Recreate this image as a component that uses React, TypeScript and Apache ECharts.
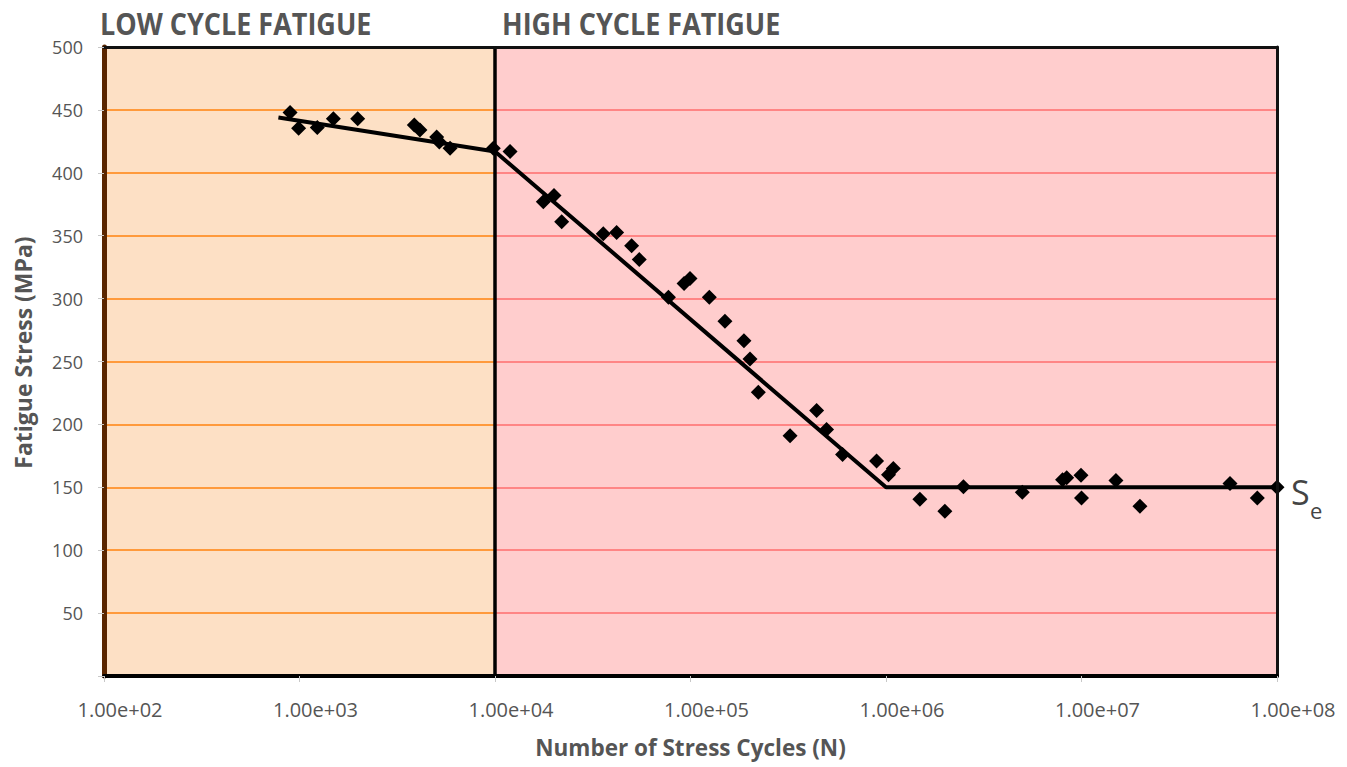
import React, { useEffect, useRef } from "react";
import * as echarts from "echarts";

const lowPoints: [number, number][] = [
  [895, 448], [990, 435.5], [1233, 436], [1490, 443], [1985, 443],
  [3865, 438], [4130, 434], [5030, 428.5], [5190, 424.5], [5890, 419.5],
  [9800, 419.5],
];
const highPoints: [number, number][] = [
  [11940, 417], [17660, 377], [20040, 382], [21930, 361], [35800, 351.5],
  [41900, 352.5], [50000, 342], [54700, 331], [77100, 301], [92700, 312],
  [99400, 316], [124800, 301], [150000, 282], [187700, 266.5], [201600, 252],
  [222300, 225.5], [323000, 191], [441600, 211], [496500, 196], [599500, 176],
  [895000, 171], [1030000, 160], [1090000, 165], [1490000, 140.5],
  [2000000, 131], [2490000, 150.5], [4980000, 146], [8000000, 156],
  [8400000, 157.5], [9940000, 159.5], [10000000, 141.5], [15000000, 155.5],
  [19900000, 135], [57500000, 153], [79300000, 141.5], [100000000, 150],
];
const fitLine: [number, number][] = [
  [780, 444], [10000, 417], [1000000, 150], [100000000, 150],
];
const yTicks = [50, 100, 150, 200, 250, 300, 350, 400, 450];
const xMin = 100;
const xSplit = 10000;
const xMax = 100000000;
const regionLabels = ["LOW CYCLE FATIGUE", "HIGH CYCLE FATIGUE"];
const xTitle = "Number of Stress Cycles (N)";
const yTitle = "Fatigue Stress (MPa)";

const FONT = "Open Sans";
const TEXT = "#555555";

export default function App() {
  const ref = useRef<HTMLDivElement>(null);
  useEffect(() => {
    if (!ref.current) return;
    const chart = echarts.init(ref.current, undefined, { renderer: "svg" });
    const fmtX = (v: number) => {
      const e = Math.round(Math.log10(v));
      return "1.00e+" + String(e).padStart(2, "0");
    };
    const gridLow = yTicks.map((y) => [
      { coord: [xMin, y] },
      { coord: [xSplit, y] },
    ]);
    const gridHigh = yTicks.map((y) => [
      { coord: [xSplit, y] },
      { coord: [xMax, y] },
    ]);
    chart.setOption({
      animation: false,
      grid: {
        left: 104,
        top: 47,
        width: 1173,
        height: 629,
        show: false,
        containLabel: false,
        outerBoundsMode: "none",
      },
      xAxis: [
        {
          type: "log",
          logBase: 10,
          min: xMin,
          max: xMax,
          z: 10,
          name: xTitle,
          nameLocation: "middle",
          nameGap: 60,
          nameTextStyle: { color: TEXT, fontFamily: FONT, fontWeight: "bold", fontSize: 22.5 },
          axisLine: { show: true, onZero: false, lineStyle: { color: "#000", width: 4 } },
          axisTick: { show: true, length: 6, lineStyle: { color: "#c8c8c8", width: 1 } },
          minorTick: { show: false },
          splitLine: { show: false },
          axisLabel: {
            formatter: fmtX,
            color: TEXT,
            fontFamily: FONT,
            fontSize: 20,
            margin: 23,
            padding: [0, 0, 0, 32],
          },
        },
        {
          type: "log",
          logBase: 10,
          min: xMin,
          max: xMax,
          position: "top",
          z: 10,
          axisLine: { show: true, onZero: false, lineStyle: { color: "#111", width: 3 } },
          axisTick: { show: false },
          axisLabel: { show: false },
          splitLine: { show: false },
        },
      ],
      yAxis: [
        {
          type: "value",
          min: 0,
          max: 500,
          interval: 50,
          z: 10,
          name: yTitle,
          nameLocation: "middle",
          nameGap: 70,
          nameTextStyle: { color: TEXT, fontFamily: FONT, fontWeight: "bold", fontSize: 23, padding: [0, 0, 0, 18] },
          axisLine: { show: true, onZero: false, lineStyle: { color: "#5a2600", width: 5 } },
          axisTick: { show: true, length: 6, lineStyle: { color: "#c8c8c8", width: 1 } },
          splitLine: { show: false },
          axisLabel: {
            formatter: (v: number) => (v === 0 ? "" : String(v)),
            color: TEXT,
            fontFamily: FONT,
            fontSize: 18,
            margin: 21,
          },
        },
        {
          type: "value",
          min: 0,
          max: 500,
          interval: 50,
          position: "right",
          z: 10,
          axisLine: { show: true, onZero: false, lineStyle: { color: "#111", width: 3 } },
          axisTick: { show: false },
          axisLabel: { show: false },
          splitLine: { show: false },
        },
      ],
      series: [
        {
          type: "line",
          data: [],
          z: 1,
          silent: true,
          markArea: {
            silent: true,
            data: [
              [{ xAxis: xMin, yAxis: 0, itemStyle: { color: "#fde0c5" } }, { xAxis: xSplit, yAxis: 500 }],
              [{ xAxis: xSplit, yAxis: 0, itemStyle: { color: "#ffcdcd" } }, { xAxis: xMax, yAxis: 500 }],
            ],
          },
        },
        {
          type: "line",
          data: [],
          z: 2,
          silent: true,
          markLine: {
            silent: true,
            symbol: ["none", "none"],
            label: { show: false },
            lineStyle: { color: "#ff9a3c", width: 2, type: "solid" },
            data: gridLow,
          },
        },
        {
          type: "line",
          data: [],
          z: 2,
          silent: true,
          markLine: {
            silent: true,
            symbol: ["none", "none"],
            label: { show: false },
            lineStyle: { color: "#ff8585", width: 2, type: "solid" },
            data: gridHigh,
          },
        },
        {
          type: "line",
          data: [],
          z: 5,
          silent: true,
          markLine: {
            silent: true,
            symbol: ["none", "none"],
            label: { show: false },
            lineStyle: { color: "#000", width: 3.5, type: "solid" },
            data: [{ xAxis: xSplit }],
          },
        },
        {
          type: "line",
          data: fitLine,
          z: 6,
          showSymbol: false,
          lineStyle: { color: "#000", width: 4 },
          itemStyle: { color: "#000" },
        },
        {
          type: "scatter",
          data: [...lowPoints, ...highPoints],
          z: 7,
          symbol: "diamond",
          symbolSize: 15,
          itemStyle: { color: "#000", opacity: 1 },
        },
      ],
      graphic: [
        {
          type: "text",
          x: 100,
          y: 8,
          scaleX: 0.9,
          z: 20,
          style: {
            text: regionLabels[0],
            fill: TEXT,
            font: `bold 30px "${FONT}"`,
          },
        },
        {
          type: "text",
          x: 502,
          y: 8,
          scaleX: 0.9,
          z: 20,
          style: {
            text: regionLabels[1],
            fill: TEXT,
            font: `bold 30px "${FONT}"`,
          },
        },
        {
          type: "text",
          x: 1291,
          y: 475,
          z: 20,
          style: { text: "S", fill: "#444", font: `34px "${FONT}"` },
        },
        {
          type: "text",
          x: 1310,
          y: 499,
          z: 20,
          style: { text: "e", fill: "#444", font: `22px "${FONT}"` },
        },
      ],
    });
    return () => chart.dispose();
  }, []);
  return (
    <div
      ref={ref}
      style={{ position: "fixed", left: 0, top: 0, width: 1347, height: 767, background: "#fff" }}
    />
  );
}
